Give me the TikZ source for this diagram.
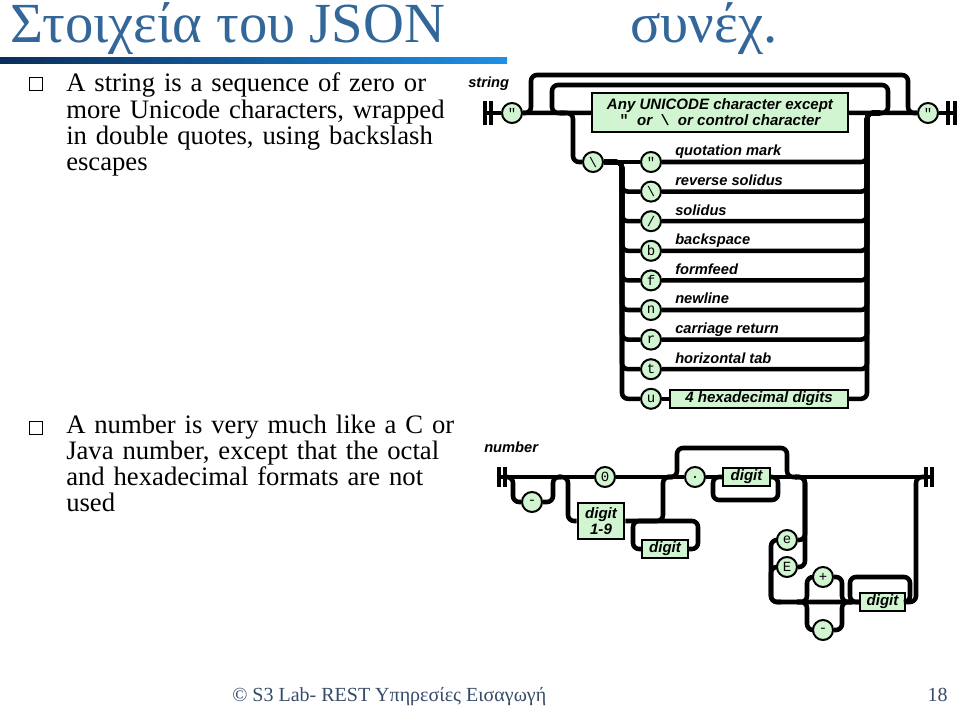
\documentclass[tikz,border=0pt]{standalone}
\usepackage{fontspec}
\setmainfont{Liberation Serif}
\setsansfont{Liberation Sans}
\setmonofont{Liberation Mono}
\usepackage{tikz}
\usetikzlibrary{positioning}

\definecolor{titleblue}{RGB}{51,102,153}
\definecolor{railgreen}{RGB}{208,245,208}
\definecolor{barnavy}{RGB}{10,45,90}
\definecolor{barsky}{RGB}{30,144,230}
\definecolor{footblue}{RGB}{55,75,105}

\begin{document}
\begin{tikzpicture}[x=0.75pt, y=-0.75pt,
  rail/.style={line width=3.4pt, rounded corners=4.5pt},
  endbar/.style={line width=3pt},
  term/.style={circle, draw, line width=1.5pt, fill=railgreen, minimum size=15pt, inner sep=0pt, font=\ttfamily\fontsize{10.5}{10.5}\selectfont},
  nonterm/.style={rectangle, draw, line width=1.5pt, fill=railgreen, inner sep=1pt, align=center, font=\sffamily\bfseries\itshape\fontsize{11.3}{12}\selectfont},
  railtext/.style={anchor=base west, inner sep=0pt, font=\sffamily\bfseries\itshape\fontsize{11}{11}\selectfont},
  bulletbox/.style={draw, line width=0.7pt, minimum size=10pt, inner sep=0pt},
  bodytext/.style={anchor=base west, inner sep=0pt, text width=300pt, align=left, font=\fontsize{20}{19.6}\selectfont},
  heading/.style={anchor=base west, inner sep=0pt, text=titleblue, font=\fontsize{42.5}{42.5}\selectfont}
]
  \useasboundingbox (0,0) rectangle (960,709);

  \shade[left color=barnavy, right color=barsky] (0,58) rectangle (507,64);
  \node[heading] (title) at (10,43) {Στοιχεία του JSON};
  \node[heading] (cont) at (630,43) {συνέχ.};

  \node[bulletbox] (b1) at (36,84) {};
  \node[bodytext] (t1) at (66,92) {A string is a sequence of zero or\\more Unicode characters, wrapped\\in double quotes, using backslash\\escapes};
  \node[bulletbox] (b2) at (36,428) {};
  \node[bodytext] (t2) at (66,433) {A number is very much like a C or\\Java number, except that the octal\\and hexadecimal formats are not\\used};

  % string
  \node[railtext] (strname) at (468,88) {string};
  \draw[endbar] (485,101) -- (485,125) (491,101) -- (491,125);
  \draw[endbar] (948,101) -- (948,125) (955,101) -- (955,125);
  \node[term] (sq1) at (512,113) {"};
  \node[nonterm, minimum width=192pt, minimum height=29pt] (anych) at (720,112.5)
    {Any UNICODE character except\\{\ttfamily\upshape"}\ \ or \ {\ttfamily\upshape\textbackslash}\ \ or control character};
  \node[term] (sq2) at (928,113) {"};
  \draw[rail] (485,113) -- (sq1);
  \draw[rail] (sq1) -- (anych);
  \draw[rail] (anych) -- (sq2);
  \draw[rail] (sq2) -- (955,113);
  \draw[rail] (sq1.east) -- (531,113) -- (531,75) -- (908,75) -- (908,113) -- (sq2.west);
  \draw[rail] (876,113) -- (888,113) -- (888,85) -- (552,85) -- (552,113) -- (565,113);

  \node[term] (bsl) at (593,162) {\textbackslash};
  \draw[rail] (560,113) -- (573,113) -- (573,162) -- (bsl.west);
  \foreach \ch/\lbl [count=\k] in {"/quotation mark, \textbackslash/reverse solidus, {/}/solidus,
      b/backspace, f/formfeed, n/newline, r/carriage return, t/horizontal tab} {
    \pgfmathsetmacro\yk{162+29.6*(\k-1)}
    \node[term] (esc\k) at (651,\yk) {\ch};
    \ifnum\k=1
      \draw[rail] (bsl) -- (esc\k);
    \else
      \draw[rail] (bsl.east) -- (622,162) -- (622,\yk) -- (esc\k.west);
    \fi
    \node[railtext] (lbl\k) at (675,\yk-6) {\lbl};
    \draw[rail] (esc\k.east) -- (867,\yk) -- (867,113) -- (880,113);
  }
  \node[term] (escu) at (651,398.8) {u};
  \node[nonterm, minimum width=133pt, minimum height=13.5pt] (hex) at (759,398.8) {4 hexadecimal digits};
  \draw[rail] (bsl.east) -- (622,162) -- (622,398.8) -- (escu.west);
  \draw[rail] (escu) -- (hex);
  \draw[rail] (hex.east) -- (867,398.8) -- (867,113) -- (880,113);

  % number
  \node[railtext] (numname) at (484,452) {number};
  \draw[endbar] (499,467) -- (499,487) (505,467) -- (505,487);
  \draw[endbar] (926,467) -- (926,487) (932,467) -- (932,487);
  \node[term] (zero) at (605,477) {0};
  \node[term] (minus) at (532,502) {-};
  \node[nonterm, minimum width=35pt, minimum height=27pt] (d19) at (601,521) {digit\\1-9};
  \node[nonterm, minimum width=34.5pt, minimum height=13.5pt] (dint) at (665,549) {digit};
  \node[term] (dot) at (695,477) {.};
  \node[nonterm, minimum width=35pt, minimum height=13.5pt] (dfrac) at (746.5,477) {digit};
  \node[term] (esm) at (787,540) {e};
  \node[term] (ebig) at (787,567) {E};
  \node[term] (plus) at (823,577) {+};
  \node[term] (neg) at (823,630) {-};
  \node[nonterm, minimum width=34pt, minimum height=13.5pt] (dexp) at (882.5,602) {digit};

  \draw[rail] (499,477) -- (zero);
  \draw[rail] (zero) -- (dot);
  \draw[rail] (dot) -- (dfrac);
  \draw[rail] (dfrac) -- (932,477);
  \draw[rail] (503,477) -- (513,477) -- (513,502) -- (minus.west);
  \draw[rail] (minus.east) -- (553,502) -- (553,477) -- (561,477);
  \draw[rail] (558,477) -- (568,477) -- (568,521) -- (d19.west);
  \draw[rail] (d19.east) -- (663,521) -- (663,477) -- (673,477);
  \draw[rail] (dint.east) -- (698,549) -- (698,521) -- (633,521) -- (633,549) -- (dint.west);
  \draw[rail] (667,477) -- (677,477) -- (677,448) -- (787,448) -- (787,477) -- (797,477);
  \draw[rail] (dfrac.east) -- (778,477) -- (778,500) -- (713,500) -- (713,477) -- (dfrac.west);
  \draw[rail] (esm.east) -- (805,540) -- (805,477) -- (795,477);
  \draw[rail] (ebig.east) -- (805,567) -- (805,477) -- (795,477);
  \draw[rail] (esm.west) -- (771,540) -- (771,602) -- (dexp.west);
  \draw[rail] (ebig.west) -- (771,567) -- (771,602) -- (781,602);
  \draw[rail] (797,602) -- (807,602) -- (807,577) -- (plus.west);
  \draw[rail] (plus.east) -- (842,577) -- (842,602) -- (852,602);
  \draw[rail] (797,602) -- (807,602) -- (807,630) -- (neg.west);
  \draw[rail] (neg.east) -- (842,630) -- (842,602) -- (852,602);
  \draw[rail] (dexp.east) -- (910,602) -- (910,577) -- (850,577) -- (850,602) -- (dexp.west);
  \draw[rail] (dexp.east) -- (916,602) -- (916,477) -- (926,477);

  % footer
  \node[anchor=base west, inner sep=0pt, text=footblue, font=\fontsize{15}{15}\selectfont] (foot) at (232,701) {© S3 Lab- REST Υπηρεσίες Εισαγωγή};
  \node[anchor=base east, inner sep=0pt, text=footblue, font=\fontsize{15}{15}\selectfont] (pageno) at (948,701) {18};
\end{tikzpicture}
\end{document}
